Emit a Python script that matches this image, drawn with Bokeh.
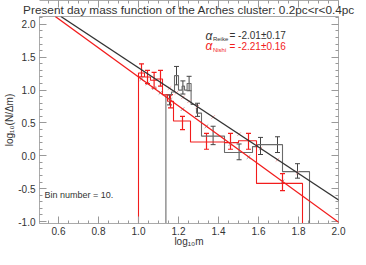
from bokeh.plotting import figure
from bokeh.models import (Range1d, SingleIntervalTicker, PrintfTickFormatter, LinearAxis,
                          Whisker, TeeHead, ColumnDataSource, Slope, Label, Title, CustomJSTickFormatter)
from bokeh.embed import file_html
from bokeh.resources import INLINE

# ---- data ----
title_text = "Present day mass function of the Arches cluster: 0.2pc<r<0.4pc"
x_label = "log\u2081\u2080m"
y_label = "log\u2081\u2080(N/\u0394m)"

# black (Reike) histogram: bin edges and heights
black_edges = [1.137, 1.165, 1.18, 1.20, 1.218, 1.23, 1.243, 1.263, 1.29, 1.315, 1.43, 1.57, 1.595, 1.72, 1.855]
black_heights = [0.93, 0.97, 1.22, 1.00, 1.06, 1.00, 1.10, 0.78, 0.65, 0.30, 0.05, 0.14, 0.17, -0.24]
# red (Nishi) histogram
red_edges = [1.00, 1.03, 1.06, 1.09, 1.12, 1.145, 1.175, 1.26, 1.43, 1.50, 1.59, 1.82]
red_heights = [1.26, 1.20, 1.15, 1.17, 0.93, 0.83, 0.53, 0.21, 0.20, 0.23, -0.42]

# black points with error bars
black_x = [1.155, 1.19, 1.222, 1.253, 1.295, 1.373, 1.503, 1.61, 1.695, 1.795]
black_y = [0.85, 1.22, 1.04, 1.10, 0.70, 0.31, 0.06, 0.15, 0.17, -0.23]
black_err = [0.075, 0.14, 0.10, 0.11, 0.10, 0.14, 0.12, 0.13, 0.12, 0.11]
# red points with error bars
red_x = [1.015, 1.045, 1.078, 1.11, 1.16, 1.22, 1.34, 1.46, 1.55, 1.72]
red_y = [1.30, 1.20, 1.15, 1.18, 0.83, 0.50, 0.22, 0.22, 0.22, -0.40]
red_err = [0.10, 0.10, 0.12, 0.12, 0.10, 0.10, 0.12, 0.12, 0.12, 0.13]

# model values at the bin centres (cross markers)
black_model_y = [1.03, 0.96, 0.89, 0.83, 0.75, 0.59, 0.33, 0.11, -0.06, -0.26]
red_model_y = [1.17, 1.10, 1.03, 0.96, 0.85, 0.71, 0.45, 0.18, -0.02, -0.39]

# power-law fits
black_slope, black_icpt = -2.01, 3.35
red_slope, red_icpt = -2.21, 3.41
alpha_black = "= -2.01\u00b10.17"
alpha_red = "= -2.21\u00b10.16"
bin_text = "Bin number = 10."

FONT = "Liberation Sans"
RED = "#f21c1c"
DARK = "#333333"
GREY = "#6a6a6a"

def step_path(edges, heights, base=-3.0):
    xs, ys = [edges[0]], [base]
    for i, h in enumerate(heights):
        xs += [edges[i], edges[i + 1]]
        ys += [h, h]
    xs.append(edges[-1]); ys.append(base)
    return xs, ys

p = figure(width=358, height=249, output_backend="svg", toolbar_location=None,
           x_range=Range1d(0.505, 2.0), y_range=Range1d(-1.03, 2.12),
           min_border_left=39, min_border_right=20, min_border_top=0, min_border_bottom=0,
           x_axis_label=x_label, y_axis_label=y_label)
p.grid.visible = False
p.outline_line_color = "#aaaaaa"
p.background_fill_color = "white"
p.border_fill_color = "white"

p.add_layout(Title(text=title_text, text_font_size="11.8px", text_font_style="normal",
                   text_color=DARK, text_font=FONT, align="center", standoff=0, offset=0), "above")

xt = SingleIntervalTicker(interval=0.2, num_minor_ticks=4)
yt = SingleIntervalTicker(interval=0.5, num_minor_ticks=5)
p.xaxis.ticker = xt
p.yaxis.ticker = yt
p.xaxis.formatter = PrintfTickFormatter(format="%.1f")
p.yaxis.formatter = PrintfTickFormatter(format="%.1f")

blank = CustomJSTickFormatter(code="return ''")
p.add_layout(LinearAxis(ticker=SingleIntervalTicker(interval=0.5, num_minor_ticks=5), formatter=blank), "right")
p.add_layout(LinearAxis(ticker=SingleIntervalTicker(interval=0.2, num_minor_ticks=4), formatter=blank), "above")

for ax in p.axis:
    ax.major_tick_in = 7
    ax.major_tick_out = 0
    ax.minor_tick_in = 3
    ax.minor_tick_out = 0
    ax.axis_line_color = "#aaaaaa"
    ax.major_tick_line_color = "#999999"
    ax.minor_tick_line_color = "#999999"
    ax.major_label_text_font = FONT
    ax.major_label_text_font_size = "10px"
    ax.major_label_text_color = DARK
    ax.major_label_standoff = 4
    ax.axis_label_text_font = FONT
    ax.axis_label_text_font_size = "10px"
    ax.axis_label_text_font_style = "normal"
    ax.axis_label_text_color = DARK
    ax.axis_label_standoff = 0
p.xaxis.major_label_standoff = 3
p.xaxis.axis_label_standoff = -2
for ax in p.right + p.above:
    if isinstance(ax, LinearAxis):
        ax.major_label_standoff = 0
        ax.major_label_text_font_size = "0px"

# fit lines
p.add_layout(Slope(gradient=black_slope, y_intercept=black_icpt, line_color=DARK, line_width=1.3))
p.add_layout(Slope(gradient=red_slope, y_intercept=red_icpt, line_color=RED, line_width=1.3))

# histograms
bxs, bys = step_path(black_edges, black_heights)
p.line(bxs, bys, line_color=GREY, line_width=1.1)
rxs, rys = step_path(red_edges, red_heights)
p.line(rxs, rys, line_color=RED, line_width=1.1)

# model crosses
p.scatter(black_x, black_model_y, marker="x", size=5, line_color="#f4a0a0", line_width=1)
p.scatter(red_x, red_model_y, marker="x", size=5, line_color="#999999", line_width=1)

# error bars
bsrc = ColumnDataSource(dict(x=black_x, lo=[y - e for y, e in zip(black_y, black_err)],
                             hi=[y + e for y, e in zip(black_y, black_err)]))
rsrc = ColumnDataSource(dict(x=red_x, lo=[y - e for y, e in zip(red_y, red_err)],
                             hi=[y + e for y, e in zip(red_y, red_err)]))
p.add_layout(Whisker(source=bsrc, base="x", upper="hi", lower="lo", line_color="#444444", line_width=1,
                     upper_head=TeeHead(size=5, line_color="#444444"),
                     lower_head=TeeHead(size=5, line_color="#444444")))
p.add_layout(Whisker(source=rsrc, base="x", upper="hi", lower="lo", line_color=RED, line_width=1.2,
                     upper_head=TeeHead(size=5, line_color=RED, line_width=1.2),
                     lower_head=TeeHead(size=5, line_color=RED, line_width=1.2)))

# annotations
p.add_layout(Label(x=1.335, y=1.83, text="\u03b1", text_font=FONT, text_font_style="italic",
                   text_font_size="12px", text_color=DARK, text_baseline="middle"))
p.add_layout(Label(x=1.372, y=1.775, text="Reike", text_font=FONT, text_font_size="6px",
                   text_color=DARK, text_baseline="middle"))
p.add_layout(Label(x=1.455, y=1.83, text=alpha_black, text_font=FONT, text_font_size="10px",
                   text_color=DARK, text_baseline="middle"))
p.add_layout(Label(x=1.335, y=1.665, text="\u03b1", text_font=FONT, text_font_style="italic",
                   text_font_size="12px", text_color=RED, text_baseline="middle"))
p.add_layout(Label(x=1.372, y=1.61, text="Nishi", text_font=FONT, text_font_size="6px",
                   text_color=RED, text_baseline="middle"))
p.add_layout(Label(x=1.455, y=1.665, text=alpha_red, text_font=FONT, text_font_size="10px",
                   text_color=RED, text_baseline="middle"))
p.add_layout(Label(x=0.53, y=-0.60, text=bin_text, text_font=FONT, text_font_size="9px",
                   text_color=DARK, text_baseline="middle"))

open("out.html", "w").write(file_html(p, INLINE))
